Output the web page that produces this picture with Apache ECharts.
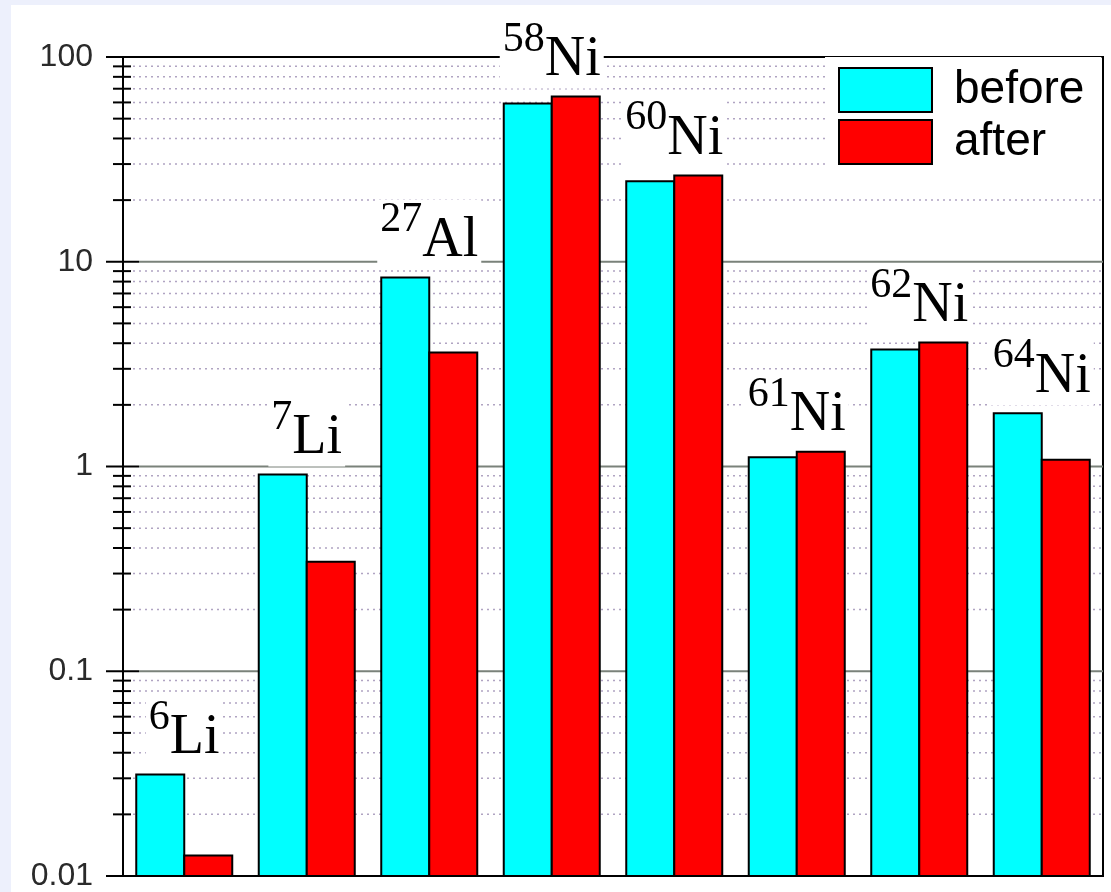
<!DOCTYPE html>
<html>
<head>
<meta charset="utf-8">
<script src="https://cdn.jsdelivr.net/npm/echarts@6/dist/echarts.min.js"></script>
<style>
html,body{margin:0;padding:0;background:#fff;}
#chart{width:1111px;height:892px;}
</style>
</head>
<body>
<div id="chart"></div>
<script>
// ---- data ----
const masses   = ['6', '7', '27', '58', '60', '61', '62', '64'];
const elements = ['Li', 'Li', 'Al', 'Ni', 'Ni', 'Ni', 'Ni', 'Ni'];
const before   = [0.0313, 0.914, 8.38, 59.3, 24.7, 1.11, 3.73, 1.82];
const after    = [0.0126, 0.343, 3.60, 64.1, 26.4, 1.18, 4.03, 1.08];
const majorTicks = [0.01, 0.1, 1, 10, 100];
const minorSteps = [2, 3, 4, 5, 6, 7, 8, 9];
const tickLabels = ['0.01', '0.1', '1', '10', '100'];

const categories = masses.map((m, i) => m + elements[i]);

// tick list for the custom tick/grid drawing: [x, value, kind]
const tickData = [];
majorTicks.forEach(v => tickData.push([0, v, 0]));
majorTicks.slice(0, -1).forEach(d => minorSteps.forEach(s => tickData.push([0, +(d * s).toPrecision(3), 1])));

const beforeData = before.map((v, i) => [i, v]);
const afterData  = after.map((v, i) => [i, v]);
const labelData  = categories.map((c, i) => [i, Math.max(before[i], after[i])]);

const BAR_W = 48;
function barRenderer(side) {
  return (params, api) => {
    const i = api.value(0), v = api.value(1);
    const top = api.coord([i, v]);
    const base = api.coord([i, majorTicks[0]]);
    const x = side < 0 ? top[0] - BAR_W : top[0];
    return {
      type: 'rect',
      shape: { x: x, y: top[1], width: BAR_W, height: base[1] - top[1] },
      style: { fill: api.visual('color'), stroke: '#000', lineWidth: 2 }
    };
  };
}

const chart = echarts.init(document.getElementById('chart'));
chart.setOption({
  backgroundColor: '#fff',
  animation: false,
  graphic: [
    { type: 'rect', left: 0, top: 0, shape: { width: 11, height: 892 }, style: { fill: '#edf0fc' }, z: 0 },
    { type: 'rect', left: 0, top: 0, shape: { width: 1111, height: 5 }, style: { fill: '#edf0fc' }, z: 0 }
  ],
  grid: { left: 123, right: 8, top: 57, bottom: 16, show: true, borderColor: '#000', borderWidth: 2, backgroundColor: 'transparent' },
  legend: {
    data: ['before', 'after'],
    orient: 'vertical',
    left: 825, top: 57,
    padding: [10, 17, 6, 13],
    itemGap: 6,
    itemWidth: 93, itemHeight: 44,
    icon: 'rect',
    backgroundColor: '#fff',
    itemStyle: { borderColor: '#000', borderWidth: 2 },
    textStyle: { fontSize: 46, fontFamily: 'Liberation Sans', color: '#000', padding: [0, 0, 0, 17] }
  },
  xAxis: {
    type: 'category', data: categories,
    axisLine: { show: false }, axisTick: { show: false }, axisLabel: { show: false }, splitLine: { show: false }
  },
  yAxis: {
    type: 'log', logBase: 10, min: 0.01, max: 100,
    axisLine: { show: true, lineStyle: { color: '#000', width: 2 } },
    axisTick: { show: false }, minorTick: { show: false },
    splitLine: { show: false },
    axisLabel: {
      fontSize: 32, fontFamily: 'Liberation Sans', color: '#2a2a2a', margin: 30,
      formatter: v => { const i = majorTicks.findIndex(t => Math.abs(t - v) / t < 1e-6); return i >= 0 ? tickLabels[i] : ''; }
    }
  },
  series: [
    {
      type: 'custom', z: 1, silent: true,
      encode: { x: 0, y: 1 },
      data: tickData,
      renderItem: (params, api) => {
        const v = api.value(1), kind = api.value(2);
        const y = api.coord([0, v])[1];
        const cs = params.coordSys;
        const x0 = cs.x;
        const children = [];
        const major = kind === 0;
        children.push({ type: 'line', shape: { x1: x0 - (major ? 17 : 10), y1: y, x2: x0 + (major ? 16 : 8), y2: y }, style: { stroke: '#000', lineWidth: 2 } });
        const atEdge = (v === majorTicks[0] || v === majorTicks[majorTicks.length - 1]);
        if (major && !atEdge) {
          children.push({ type: 'line', shape: { x1: x0 + 16, y1: y, x2: x0 + cs.width, y2: y }, style: { stroke: '#7a827a', lineWidth: 2 } });
        } else if (!major) {
          children.push({ type: 'line', shape: { x1: x0 + 10, y1: y, x2: x0 + cs.width, y2: y }, style: { stroke: '#b0a4c2', lineWidth: 1.5, lineDash: [2, 4] } });
        }
        return { type: 'group', children };
      }
    },
    {
      name: 'before', type: 'custom', z: 2, silent: true,
      encode: { x: 0, y: 1 },
      data: beforeData,
      itemStyle: { color: '#00ffff', borderColor: '#000', borderWidth: 2 },
      renderItem: barRenderer(-1)
    },
    {
      name: 'after', type: 'custom', z: 2, silent: true,
      encode: { x: 0, y: 1 },
      data: afterData,
      itemStyle: { color: '#ff0000', borderColor: '#000', borderWidth: 2 },
      renderItem: barRenderer(1)
    },
    {
      type: 'scatter', z: 5, silent: true,
      symbolSize: 0,
      itemStyle: { opacity: 1 },
      data: labelData,
      label: {
        show: true, position: 'top', distance: 8,
        backgroundColor: '#fff', padding: [0, 3, 0, 3],
        formatter: p => '{sup|' + masses[p.dataIndex] + '}{el|' + elements[p.dataIndex] + '}',
        rich: {
          sup: { fontSize: 42, fontFamily: 'Liberation Serif', color: '#000', verticalAlign: 'top' },
          el: { fontSize: 56, fontFamily: 'Liberation Serif', color: '#000', lineHeight: 70, verticalAlign: 'bottom' }
        }
      }
    }
  ]
});
</script>
</body>
</html>
